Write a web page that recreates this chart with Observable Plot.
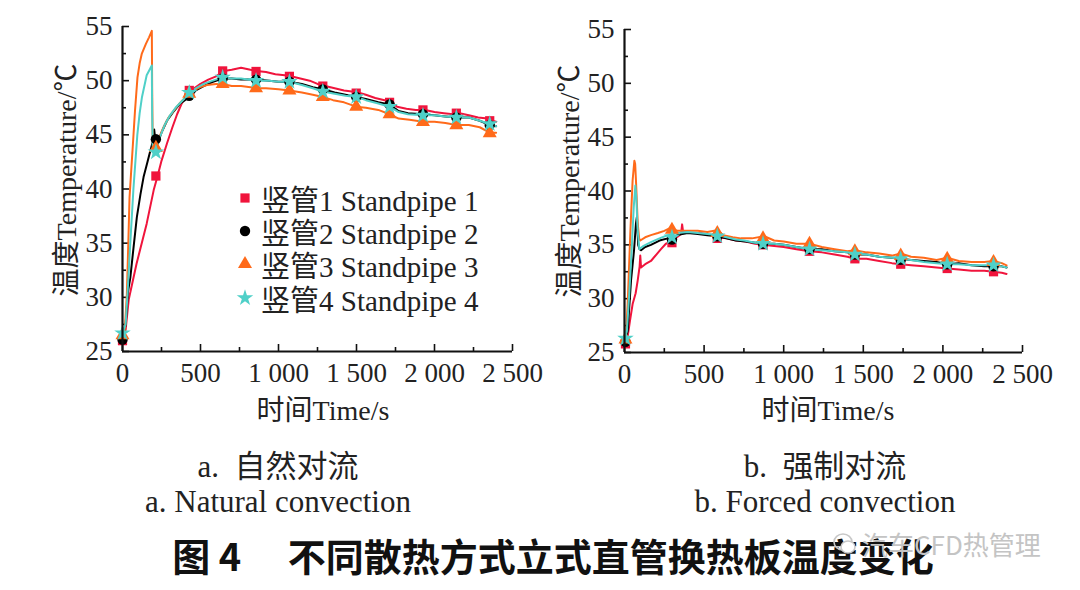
<!DOCTYPE html>
<html><head><meta charset="utf-8">
<script src="https://cdn.jsdelivr.net/npm/d3@7"></script>
<script src="https://cdn.jsdelivr.net/npm/@observablehq/plot@0.6"></script>
<style>
html,body{margin:0;padding:0;background:#fff;}
body{width:1080px;height:590px;position:relative;overflow:hidden;font-family:"Liberation Serif","Noto Sans CJK SC",serif;color:#222;}
.chart{position:absolute;top:0;width:540px;height:420px;}
.chart svg{overflow:visible;}
.ytitle{position:absolute;white-space:nowrap;font-size:28px;transform:translate(-50%,-50%) rotate(-90deg);}
.xtitle{position:absolute;white-space:nowrap;font-size:28px;transform:translate(-50%,-50%);}
.cap{position:absolute;white-space:pre;font-size:31px;transform:translate(-50%,-50%);}
.legend{position:absolute;font-size:29px;}
.legend .row{display:flex;align-items:center;height:33.4px;white-space:pre;}
</style></head><body>
<div id="natural" class="chart" style="left:0"></div>
<div id="forced" class="chart" style="left:540px"></div>
<script>
// ---------- data ----------
const seriesKeys = ["S1", "S2", "S3", "S4"];
const legendNames = ["竖管1 Standpipe 1", "竖管2 Standpipe 2", "竖管3 Standpipe 3", "竖管4 Standpipe 4"];
const seriesColors = ["#f0143c", "#000000", "#ff6a1a", "#4fd0c8"];
const seriesSymbols = ["square", "circle", "triangle", "star"];

const xTicks = [0, 500, 1000, 1500, 2000, 2500];
const xMinorTicks = [250, 750, 1250, 1750, 2250];
const yTicks = [25, 30, 35, 40, 45, 50, 55];
const yMinorTicks = [27.5, 32.5, 37.5, 42.5, 47.5, 52.5];

// a. natural convection  [time s, temperature °C]
const natS1 = [[0,26.0],[20,27.0],[40,29.8],[90,33.1],[155,36.8],[200,39.9],[225,41.2],[250,42.6],[285,44.2],[320,45.7],[350,46.9],[380,47.9],[415,48.8],[450,49.2],[500,49.7],[550,50.1],[600,50.4],[650,50.9],[700,51.0],[760,51.2],[820,51.0],[860,50.9],[920,50.8],[980,50.6],[1040,50.5],[1080,50.4],[1140,50.2],[1200,50.0],[1250,49.7],[1300,49.5],[1360,49.3],[1420,49.1],[1470,49.0],[1510,48.9],[1560,48.7],[1620,48.4],[1680,48.2],[1720,48.0],[1760,47.6],[1820,47.4],[1880,47.3],[1940,47.3],[2000,47.1],[2060,47.0],[2120,46.9],[2160,47.0],[2220,46.8],[2280,46.6],[2340,46.5],[2370,46.3],[2395,46.2]];
const natS2 = [[0,26.2],[20,27.5],[35,30.5],[50,31.8],[70,34.5],[92,37.4],[115,39.5],[135,41.1],[160,42.5],[178,43.5],[195,44.4],[203,45.5],[210,44.6],[225,44.2],[250,45.2],[285,46.3],[330,47.2],[370,47.9],[410,48.3],[435,48.5],[470,49.1],[520,49.5],[580,49.9],[642,50.2],[700,50.2],[760,50.1],[856,50.1],[940,50.0],[1000,49.9],[1070,49.9],[1150,49.7],[1220,49.4],[1284,49.2],[1360,48.9],[1430,48.7],[1498,48.5],[1560,48.3],[1640,48.0],[1712,47.8],[1770,47.2],[1830,47.0],[1926,46.9],[2000,46.8],[2070,46.7],[2140,46.6],[2220,46.6],[2290,46.3],[2354,45.9],[2395,45.8]];
const natS3 = [[0,26.4],[15,27.0],[28,30.3],[37,34.9],[45,39.2],[55,41.5],[67,44.2],[80,47.2],[96,50.3],[110,51.6],[124,52.5],[150,53.4],[170,54.0],[188,54.6],[190,49.5],[193,45.0],[197,44.0],[214,43.8],[240,44.9],[263,45.7],[295,46.6],[327,47.2],[360,47.8],[392,48.3],[428,48.8],[456,49.1],[500,49.4],[542,49.6],[600,49.7],[642,49.7],[700,49.5],[760,49.5],[820,49.4],[856,49.3],[920,49.3],[1000,49.2],[1070,49.1],[1150,48.9],[1220,48.7],[1284,48.5],[1350,48.2],[1420,48.0],[1498,47.6],[1560,47.5],[1640,47.3],[1712,46.9],[1770,46.5],[1840,46.4],[1926,46.2],[2000,46.2],[2070,46.1],[2140,45.9],[2220,45.9],[2290,45.7],[2354,45.2],[2395,45.2]];
const natS4 = [[0,26.7],[20,27.5],[32,30.3],[50,35.0],[70,40.0],[95,45.0],[110,47.0],[125,48.5],[155,50.5],[188,51.4],[190,47.0],[194,44.0],[200,43.2],[214,43.4],[240,44.8],[270,45.9],[300,46.7],[340,47.5],[380,48.1],[428,48.8],[470,49.3],[520,49.7],[580,50.0],[642,50.3],[700,50.2],[760,50.2],[856,50.0],[940,50.0],[1000,49.9],[1070,49.9],[1150,49.6],[1220,49.3],[1284,49.0],[1360,48.8],[1430,48.6],[1498,48.5],[1560,48.2],[1640,47.9],[1712,47.6],[1770,47.1],[1830,46.9],[1926,46.8],[2000,46.8],[2070,46.7],[2140,46.6],[2220,46.6],[2290,46.3],[2354,46.0],[2395,45.8]];
const natMarkT = [0, 214, 428, 642, 856, 1070, 1284, 1498, 1712, 1926, 2140, 2354];
const natMarkS1 = [26.0, 41.2, 49.1, 50.9, 50.85, 50.4, 49.5, 48.85, 48.0, 47.3, 47.0, 46.3];
const natMarkS2 = [26.1, 44.6, 48.6, 50.2, 50.1, 49.9, 49.2, 48.5, 47.8, 46.9, 46.6, 45.9];
const natMarkS3 = [26.5, 43.8, 48.8, 49.7, 49.3, 49.1, 48.5, 47.6, 46.9, 46.2, 45.9, 45.15];
const natMarkS4 = [26.7, 43.4, 48.9, 50.3, 50.0, 49.9, 49.0, 48.5, 47.6, 46.8, 46.6, 46.0];

// b. forced convection  [time s, temperature °C]
const forS1 = [[0,25.8],[20,26.5],[35,28.0],[51,29.5],[70,30.5],[83,31.7],[95,33.0],[99,34.0],[104,32.9],[130,33.2],[166,33.5],[200,34.1],[229,34.6],[260,35.1],[292,35.3],[320,35.6],[355,36.0],[362,36.9],[368,36.2],[420,36.1],[480,36.1],[540,35.9],[583,35.7],[640,35.6],[700,35.4],[760,35.3],[820,35.1],[870,35.0],[940,34.9],[1000,34.8],[1080,34.6],[1162,34.4],[1240,34.3],[1320,34.1],[1400,33.9],[1447,33.7],[1520,33.7],[1600,33.5],[1680,33.3],[1735,33.2],[1800,33.1],[1880,33.0],[1960,32.9],[2027,32.8],[2100,32.7],[2180,32.6],[2260,32.6],[2318,32.5],[2370,32.4],[2400,32.3]];
const forS2 = [[0,26.0],[20,27.0],[41,31.7],[60,34.5],[72,37.0],[78,37.6],[86,35.0],[95,34.6],[104,34.5],[130,34.8],[166,35.0],[220,35.4],[271,35.6],[298,35.5],[330,35.9],[397,36.1],[460,36.0],[520,35.9],[583,35.8],[640,35.6],[700,35.4],[760,35.3],[820,35.2],[870,35.1],[940,35.1],[1000,35.0],[1080,34.8],[1162,34.6],[1240,34.6],[1320,34.4],[1400,34.3],[1447,34.1],[1520,34.1],[1600,33.9],[1680,33.8],[1735,33.7],[1800,33.6],[1880,33.5],[1960,33.4],[2027,33.2],[2100,33.3],[2180,33.1],[2260,33.0],[2318,33.0],[2370,33.0],[2400,32.9]];
const forS3 = [[0,26.1],[10,26.8],[20,29.5],[30,33.5],[37,36.3],[51,41.0],[62,42.8],[67,42.5],[72,41.0],[83,37.0],[92,35.6],[99,35.4],[130,35.7],[166,35.9],[210,36.1],[250,36.3],[292,36.6],[330,36.3],[397,36.3],[460,36.3],[520,36.2],[564,36.3],[583,36.4],[620,35.9],[680,35.7],[731,35.6],[800,35.6],[878,35.8],[940,35.4],[1000,35.3],[1080,35.1],[1162,35.1],[1240,34.8],[1320,34.6],[1400,34.4],[1447,34.5],[1520,34.3],[1600,34.2],[1680,34.0],[1735,34.2],[1800,33.9],[1880,33.8],[1960,33.6],[2027,33.8],[2100,33.5],[2180,33.4],[2260,33.4],[2318,33.5],[2370,33.3],[2400,33.1]];
const forS4 = [[0,26.2],[15,27.0],[30,30.5],[45,34.5],[58,38.5],[68,40.5],[74,39.5],[82,36.5],[93,34.6],[120,34.9],[166,35.25],[220,35.6],[271,35.9],[330,36.1],[397,36.2],[460,36.1],[520,36.0],[585,35.9],[640,35.7],[700,35.5],[752,35.4],[820,35.2],[870,35.1],[940,35.1],[1000,35.0],[1080,34.8],[1162,34.6],[1240,34.5],[1320,34.4],[1400,34.3],[1447,34.2],[1520,34.1],[1600,33.9],[1680,33.8],[1735,33.7],[1800,33.6],[1880,33.4],[1960,33.3],[2027,33.2],[2100,33.2],[2180,33.1],[2260,33.1],[2318,33.1],[2370,33.0],[2400,32.9]];
const forMarkT = [6, 298, 583, 870, 1162, 1447, 1735, 2027, 2318];
const forMarkS1 = [25.8, 35.2, 35.6, 35.0, 34.4, 33.7, 33.2, 32.8, 32.5];
const forMarkS2 = [26.0, 35.5, 35.8, 35.1, 34.6, 34.1, 33.6, 33.2, 33.0];
const forMarkS3 = [26.2, 36.4, 36.1, 35.6, 35.1, 34.4, 34.0, 33.7, 33.4];
const forMarkS4 = [26.3, 35.7, 35.8, 35.1, 34.6, 34.1, 33.7, 33.2, 33.1];

// ---------- build ----------
function toRows(seriesList) {
  return seriesList.flatMap((pts, i) => pts.map(([t, v]) => ({series: seriesKeys[i], t, v})));
}
function toMarks(times, valsList) {
  return valsList.flatMap((vals, i) => vals.map((v, j) => ({series: seriesKeys[i], t: times[j], v})));
}
const fmtX = d => d >= 1000 ? d3.format(",")(d).replace(",", " ") : String(d);

function makeChart(lines, marks, m) {
  return Plot.plot({
    width: 540, height: 420,
    marginLeft: m.left, marginRight: m.right, marginTop: m.top, marginBottom: m.bottom,
    style: {fontFamily: "'Liberation Serif', serif", fontSize: "27px", color: "#222", background: "transparent", overflow: "visible"},
    x: {domain: [0, 2500]},
    y: {domain: [25, 55]},
    color: {domain: seriesKeys, range: seriesColors},
    symbol: {domain: seriesKeys, range: seriesSymbols},
    marks: [
      Plot.axisX(xTicks, {tickSize: 0, tickPadding: 11, tickFormat: fmtX, label: null, fill: "#222", fontSize: 27}),
      Plot.axisX(xTicks, {tickSize: -7, tickFormat: () => "", label: null, stroke: "#111", strokeWidth: 1.6}),
      Plot.axisX(xMinorTicks, {tickSize: -4, tickFormat: () => "", label: null, stroke: "#111", strokeWidth: 1.6}),
      Plot.axisY(yTicks, {tickSize: 0, tickPadding: 10, label: null, fill: "#222", fontSize: 27}),
      Plot.axisY(yTicks, {tickSize: -7, tickFormat: () => "", label: null, stroke: "#111", strokeWidth: 1.6}),
      Plot.axisY(yMinorTicks, {tickSize: -4, tickFormat: () => "", label: null, stroke: "#111", strokeWidth: 1.6}),
      Plot.line(lines, {x: "t", y: "v", z: "series", stroke: "series", strokeWidth: 2, strokeLinejoin: "round"}),
      Plot.dot(marks, {x: "t", y: "v", symbol: "series", fill: "series", r: 5.2, stroke: null}),
      Plot.ruleY([25], {stroke: "#111", strokeWidth: 2.2}),
      Plot.ruleX([0], {stroke: "#111", strokeWidth: 2.2})
    ]
  });
}

document.getElementById("natural").appendChild(makeChart(
  toRows([natS1, natS2, natS3, natS4]),
  toMarks(natMarkT, [natMarkS1, natMarkS2, natMarkS3, natMarkS4]),
  {left: 122, right: 28, top: 26, bottom: 69}
));
document.getElementById("forced").appendChild(makeChart(
  toRows([forS1, forS2, forS3, forS4]),
  toMarks(forMarkT, [forMarkS1, forMarkS2, forMarkS3, forMarkS4]),
  {left: 84, right: 58, top: 29, bottom: 68}
));

// ---------- texts ----------
function addDiv(cls, text, x, y, extra) {
  const d = document.createElement("div");
  d.className = cls;
  d.textContent = text;
  d.style.left = x + "px";
  d.style.top = y + "px";
  if (extra) Object.assign(d.style, extra);
  document.body.appendChild(d);
  return d;
}
const yTitle = "温度Temperature/℃";
const xTitle = "时间Time/s";
addDiv("ytitle", yTitle, 64, 180);
addDiv("ytitle", yTitle, 567, 181);
addDiv("xtitle", xTitle, 323, 408);
addDiv("xtitle", xTitle, 828, 408);

const captionsCN = ["a.  自然对流", "b.  强制对流"];
const captionsEN = ["a. Natural convection", "b. Forced convection"];
addDiv("cap", captionsCN[0], 278, 463);
addDiv("cap", captionsCN[1], 825, 463);
addDiv("cap", captionsEN[0], 278, 502);
addDiv("cap", captionsEN[1], 825, 502);
addDiv("cap", "图 4　 不同散热方式立式直管换热板温度变化", 553, 554,
  {fontFamily: "'Noto Sans CJK SC', sans-serif", fontWeight: "700", fontSize: "38px", color: "#111"});

// watermark (grey, partly over the title as in the source)
const wm = document.createElement("div");
wm.style.cssText = "position:absolute;left:832px;top:525px;display:flex;align-items:center;white-space:pre;font-family:'Noto Sans CJK SC',sans-serif;font-size:26px;color:#c4c4c4;";
const icon = d3.create("svg").attr("width", 26).attr("height", 26).style("margin-right", "4px");
icon.append("ellipse").attr("cx", 11).attr("cy", 11).attr("rx", 9).attr("ry", 8).attr("fill", "none").attr("stroke", "#c8c8c8").attr("stroke-width", 1.6);
icon.append("ellipse").attr("cx", 16).attr("cy", 16).attr("rx", 7).attr("ry", 6).attr("fill", "#fff").attr("stroke", "#c8c8c8").attr("stroke-width", 1.6);
wm.appendChild(icon.node());
const wmText = document.createElement("span");
wmText.textContent = "汽车CFD热管理";
wm.appendChild(wmText);
document.body.appendChild(wm);

// legend
const legend = document.createElement("div");
legend.className = "legend";
legend.style.left = "234px";
legend.style.top = "181px";
legendNames.forEach((name, i) => {
  const row = document.createElement("div");
  row.className = "row";
  const svg = d3.create("svg").attr("width", 22).attr("height", 22).style("margin-right", "5px");
  const sym = {square: d3.symbolSquare, circle: d3.symbolCircle, triangle: d3.symbolTriangle, star: d3.symbolStar}[seriesSymbols[i]];
  svg.append("path").attr("transform", "translate(11,11)")
    .attr("d", d3.symbol(sym, Math.PI * 5.2 * 5.2)())
    .attr("fill", seriesColors[i]);
  row.appendChild(svg.node());
  const sp = document.createElement("span");
  sp.textContent = name;
  row.appendChild(sp);
  legend.appendChild(row);
});
document.body.appendChild(legend);
</script>
</body></html>
